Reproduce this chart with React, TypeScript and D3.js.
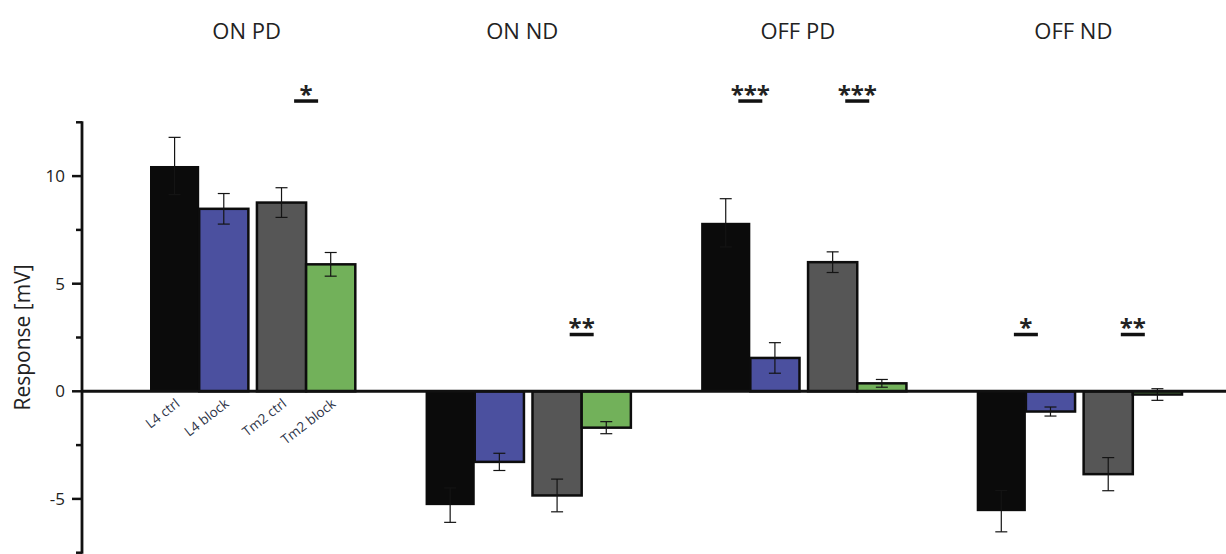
import React, { useEffect, useRef } from "react";
import * as d3 from "d3";

// stimulus groups and conditions
const groups = ["ON PD", "ON ND", "OFF PD", "OFF ND"];
const conditions = ["L4 ctrl", "L4 block", "Tm2 ctrl", "Tm2 block"];
const pairs = ["L4", "Tm2"];

// mean responses [mV] per condition, in group order
const l4Ctrl = [10.47, -5.29, 7.83, -5.57];
const l4Block = [8.48, -3.28, 1.55, -0.94];
const tm2Ctrl = [8.77, -4.84, 6.0, -3.85];
const tm2Block = [5.9, -1.69, 0.37, -0.15];

// SEM per condition
const l4CtrlErr = [1.33, 0.8, 1.12, 0.96];
const l4BlockErr = [0.71, 0.4, 0.71, 0.21];
const tm2CtrlErr = [0.69, 0.76, 0.48, 0.77];
const tm2BlockErr = [0.55, 0.28, 0.18, 0.27];

// significance (ctrl vs block) and the level it is drawn at
const l4Sig = ["", "", "***", "*"];
const tm2Sig = ["*", "**", "***", "**"];
const sigLevel = [13.5, 2.65, 13.5, 2.65];

const majorTicks = [-5, 0, 5, 10];
const minorTicks = [-7.5, -2.5, 2.5, 7.5, 12.5];

const colors = ["#0b0b0b", "#4b509f", "#565656", "#72b15a"];

const App = () => {
  const ref = useRef<SVGSVGElement>(null);

  useEffect(() => {
    const width = 1226,
      height = 554;
    const svg = d3.select(ref.current);
    svg.selectAll("*").remove();
    svg.attr("width", width).attr("height", height);

    const means = [l4Ctrl, l4Block, tm2Ctrl, tm2Block];
    const errs = [l4CtrlErr, l4BlockErr, tm2CtrlErr, tm2BlockErr];

    const rows = groups.flatMap((g, gi) =>
      conditions.map((c, ci) => ({
        group: g,
        gi,
        cond: c,
        ci,
        pair: pairs[Math.floor(ci / 2)],
        sub: ci % 2,
        value: means[ci][gi],
        err: errs[ci][gi],
      }))
    );

    const y = d3.scaleLinear().domain([-7.5, 12.5]).range([552.7, 122.3]);
    const axisX = 82;

    const xGroup = d3
      .scaleBand()
      .domain(groups)
      .range([150, 1182])
      .paddingInner(0.255)
      .paddingOuter(0);
    const xPair = d3
      .scaleBand()
      .domain(pairs)
      .range([0, xGroup.bandwidth()])
      .paddingInner(0.08);
    const xSub = d3
      .scaleBand<number>()
      .domain([0, 1])
      .range([0, xPair.bandwidth()]);

    const barX = (d: any) => xGroup(d.group)! + xPair(d.pair)! + xSub(d.sub)!;
    const bw = xSub.bandwidth();

    // group titles
    svg
      .append("g")
      .selectAll("text")
      .data(groups)
      .enter()
      .append("text")
      .attr("x", (d) => xGroup(d)! + xGroup.bandwidth() / 2 - 6)
      .attr("y", 39)
      .attr("text-anchor", "middle")
      .attr("font-family", "Open Sans")
      .attr("font-size", 22)
      .attr("fill", "#222")
      .text((d) => d);

    // bars
    svg
      .append("g")
      .selectAll("rect")
      .data(rows)
      .enter()
      .append("rect")
      .attr("x", barX)
      .attr("y", (d) => y(Math.max(0, d.value)))
      .attr("width", bw)
      .attr("height", (d) => Math.abs(y(d.value) - y(0)))
      .attr("fill", (d) => colors[d.ci])
      .attr("stroke", "#0d0d0d")
      .attr("stroke-width", (d) => (d.ci === 0 ? 0 : 2.5));

    // error bars
    const eb = svg
      .append("g")
      .attr("stroke", "#141414")
      .attr("stroke-width", 1.2)
      .selectAll("g")
      .data(rows)
      .enter()
      .append("g");
    eb.append("line")
      .attr("x1", (d) => barX(d) + bw / 2)
      .attr("x2", (d) => barX(d) + bw / 2)
      .attr("y1", (d) => y(d.value + d.err))
      .attr("y2", (d) => y(d.value - d.err));
    [1, -1].forEach((s) => {
      eb.append("line")
        .attr("x1", (d) => barX(d) + bw / 2 - 6)
        .attr("x2", (d) => barX(d) + bw / 2 + 6)
        .attr("y1", (d) => y(d.value + s * d.err))
        .attr("y2", (d) => y(d.value + s * d.err));
    });

    // zero line
    svg
      .append("line")
      .attr("x1", axisX)
      .attr("x2", width)
      .attr("y1", y(0))
      .attr("y2", y(0))
      .attr("stroke", "#111")
      .attr("stroke-width", 3);

    // y axis
    const yAxis = svg.append("g");
    yAxis
      .append("line")
      .attr("x1", axisX)
      .attr("x2", axisX)
      .attr("y1", y(12.5) - 1)
      .attr("y2", y(-7.5) + 1)
      .attr("stroke", "#111")
      .attr("stroke-width", 2.8);
    yAxis
      .selectAll(".major")
      .data(majorTicks)
      .enter()
      .append("line")
      .attr("x1", axisX - 10)
      .attr("x2", axisX)
      .attr("y1", (d) => y(d))
      .attr("y2", (d) => y(d))
      .attr("stroke", "#111")
      .attr("stroke-width", 2.5);
    yAxis
      .selectAll(".minor")
      .data(minorTicks)
      .enter()
      .append("line")
      .attr("x1", axisX - 6)
      .attr("x2", axisX)
      .attr("y1", (d) => y(d))
      .attr("y2", (d) => y(d))
      .attr("stroke", "#111")
      .attr("stroke-width", 2.5);
    yAxis
      .selectAll("text")
      .data(majorTicks)
      .enter()
      .append("text")
      .attr("x", axisX - 17)
      .attr("y", (d) => y(d))
      .attr("dy", "0.36em")
      .attr("text-anchor", "end")
      .attr("font-family", "Open Sans")
      .attr("font-size", 17)
      .attr("fill", "#222")
      .text((d) => d);

    // y label
    svg
      .append("text")
      .attr("transform", `translate(30,${y(2.5)}) rotate(-90)`)
      .attr("text-anchor", "middle")
      .attr("font-family", "Open Sans")
      .attr("font-size", 21)
      .attr("fill", "#222")
      .text("Response [mV]");

    // condition labels under first group
    svg
      .append("g")
      .selectAll("text")
      .data(rows.filter((d) => d.gi === 0))
      .enter()
      .append("text")
      .attr("transform", (d) => `translate(${barX(d) + bw / 2 + 6},${y(0) + 14}) rotate(-38)`)
      .attr("text-anchor", "end")
      .attr("font-family", "Open Sans")
      .attr("font-size", 13.5)
      .attr("fill", "#2e3448")
      .text((d) => d.cond);

    // significance marks
    const sig = groups.flatMap((g, gi) =>
      [l4Sig[gi], tm2Sig[gi]]
        .map((s, pi) => ({ g, gi, s, pair: pairs[pi] }))
        .filter((d) => d.s !== "")
    );
    const sg = svg.append("g").selectAll("g").data(sig).enter().append("g");
    const sigX = (d: any) => xGroup(d.g)! + xPair(d.pair)! + xPair.bandwidth() / 2;
    sg.append("rect")
      .attr("x", (d) => sigX(d) - 12)
      .attr("y", (d) => y(sigLevel[d.gi]) - 1.5)
      .attr("width", 24)
      .attr("height", 3.5)
      .attr("fill", "#111");
    sg.append("text")
      .attr("x", sigX)
      .attr("y", (d) => y(sigLevel[d.gi]) + 2)
      .attr("text-anchor", "middle")
      .attr("font-family", "Open Sans")
      .attr("font-weight", "bold")
      .attr("font-size", 24)
      .attr("fill", "#222")
      .text((d) => d.s);
  }, []);

  return (
    <div style={{ position: "absolute", left: 0, top: 0 }}>
      <svg ref={ref}></svg>
    </div>
  );
};

export default App;
